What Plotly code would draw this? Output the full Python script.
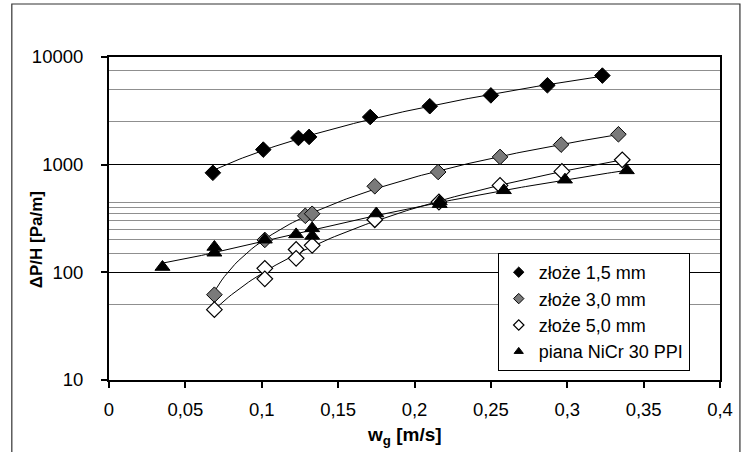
import numpy as np
import plotly.graph_objects as go

# ---- data ----
x_15 = [0.068, 0.101, 0.124, 0.131, 0.171, 0.210, 0.250, 0.287, 0.323]
y_15 = [840, 1380, 1770, 1810, 2770, 3490, 4400, 5460, 6720]

x_30 = [0.069, 0.102, 0.1285, 0.133, 0.174, 0.2155, 0.256, 0.296, 0.3335]
y_30 = [62, 200, 335, 350, 630, 855, 1180, 1535, 1915]

x_50 = [0.069, 0.102, 0.102, 0.1225, 0.1225, 0.133, 0.174, 0.216, 0.256, 0.2965, 0.336]
y_50 = [45, 109, 87, 163, 135, 178, 308, 450, 642, 866, 1110]

x_foam = [0.035, 0.069, 0.069, 0.102, 0.1225, 0.133, 0.133, 0.175, 0.2165, 0.2165, 0.2585, 0.2985, 0.339]
y_foam = [112, 172, 152, 201, 225, 256, 218, 352, 455, 430, 578, 725, 885]

names = ["złoże 1,5 mm", "złoże 3,0 mm", "złoże 5,0 mm", "piana NiCr 30 PPI"]

x_tickvals = [0, 0.05, 0.1, 0.15, 0.2, 0.25, 0.3, 0.35, 0.4]
x_ticktext = ["0", "0,05", "0,1", "0,15", "0,2", "0,25", "0,3", "0,35", "0,4"]
y_tickvals = [10, 100, 1000, 10000]
y_ticktext = ["10", "100", "1000", "10000"]
y_minor = [50, 150, 200, 250, 300, 350, 400, 450, 2500, 5000, 7500]

FONT = "Arial, 'Liberation Sans', sans-serif"

series = [
    (x_15, y_15, dict(symbol="diamond", color="black", line=dict(color="black", width=1))),
    (x_30, y_30, dict(symbol="diamond", color="#7a7a7a", line=dict(color="black", width=1))),
    (x_50, y_50, dict(symbol="diamond", color="white", line=dict(color="black", width=1.2))),
    (x_foam, y_foam, dict(symbol="triangle-up", color="black", line=dict(color="black", width=1))),
]

fig = go.Figure()

# trendlines (2nd order polynomial fitted to each series)
for xs, ys, mk in series:
    c = np.polyfit(xs, ys, 2)
    xf = np.linspace(min(xs), max(xs), 120)
    fig.add_trace(go.Scatter(x=xf, y=np.polyval(c, xf), mode="lines",
                             line=dict(color="black", width=1),
                             showlegend=False, hoverinfo="skip"))

sizes = [12, 12, 12, 13]
for (xs, ys, mk), s in zip(series, sizes):
    fig.add_trace(go.Scatter(x=xs, y=ys, mode="markers",
                             marker=dict(size=s, **mk), showlegend=False))

# legend entries (smaller symbols as in the reference legend)
for (xs, ys, mk), nm in zip(series, names):
    fig.add_trace(go.Scatter(x=[None], y=[None], mode="markers", name=nm,
                             marker=dict(size=8, **mk)))

# body margin removed below, so plot area sits at x 109..722, y 57..380
L, T, PW, PH = 109, 57, 613, 323
W, H = 745, 452
def px(xp):
    return (xp - L) / PW
def py(yp):
    return (T + PH - yp) / PH

fig.update_layout(
    width=W, height=H,
    margin=dict(l=L, r=W - L - PW, t=T, b=H - T - PH),
    paper_bgcolor="white", plot_bgcolor="white",
    font=dict(family=FONT, size=18.5, color="black"),
    showlegend=True,
    legend=dict(x=px(499), y=py(253), xanchor="left", yanchor="top",
                bgcolor="white", bordercolor="black", borderwidth=1,
                font=dict(size=18), itemwidth=30, tracegroupgap=0),
    xaxis=dict(range=[0, 0.4], tickmode="array", tickvals=x_tickvals, ticktext=x_ticktext,
               showgrid=False, zeroline=False, showline=True, linecolor="black", linewidth=2,
               mirror=True, ticks="outside", ticklen=6, tickcolor="black", tickwidth=1.5,
               ticklabelstandoff=6),
    yaxis=dict(type="log", range=[1, 4], tickmode="array", tickvals=y_tickvals, ticktext=y_ticktext,
               showgrid=True, gridcolor="black", gridwidth=1.3,
               minor=dict(tickmode="array", tickvals=y_minor, showgrid=True,
                          gridcolor="#8f8f8f", gridwidth=1.2, ticks=""),
               zeroline=False, showline=True, linecolor="black", linewidth=2,
               mirror=True, ticks="outside", ticklen=6, tickcolor="black", tickwidth=1.5,
               ticklabelstandoff=14),
    annotations=[
        dict(text="<b>ΔP/H [Pa/m]</b>", xref="paper", yref="paper", x=px(36), y=py(240),
             xanchor="center", yanchor="middle", textangle=-90, showarrow=False,
             font=dict(size=17)),
        dict(text="<b>w<sub>g</sub> [m/s]</b>", xref="paper", yref="paper", x=px(405), y=py(436),
             xanchor="center", yanchor="middle", showarrow=False, font=dict(size=19)),
    ],
    shapes=[dict(type="rect", xref="paper", yref="paper", x0=px(11.5), x1=px(742),
                 y0=py(470), y1=py(4), line=dict(color="#333333", width=1.2), layer="below")],
)

fig.write_html("out.html", config={"displayModeBar": False},
               post_script="document.body.style.margin='0';document.body.style.overflow='hidden';")
